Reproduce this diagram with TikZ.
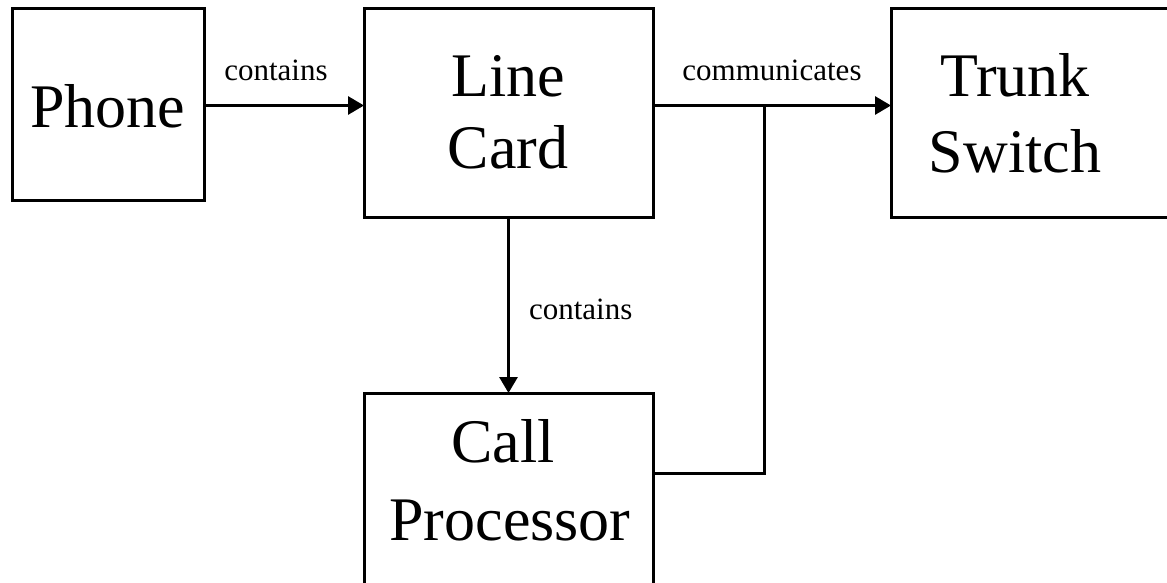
\documentclass[tikz,border=0pt]{standalone}
\usepackage{fontspec}
\setmainfont{Liberation Serif}
\usetikzlibrary{arrows.meta}
\begin{document}
\begin{tikzpicture}[x=1pt,y=-1pt,
  box/.style={draw, line width=3pt, inner sep=0pt, outer sep=0pt, anchor=north west},
  big/.style={font=\fontsize{62}{75}\selectfont, inner sep=0pt, anchor=base},
  lbl/.style={font=\fontsize{31}{36}\selectfont, inner sep=0pt},
  wire/.style={line width=3pt},
  arr/.style={wire, -{Triangle[length=16pt,width=18pt]}}]
\useasboundingbox (0,0) rectangle (1167,583);

% blocks
\node[box, minimum width=192pt, minimum height=191pt] (phone)    at (12,9)   {};
\node[box, minimum width=289pt, minimum height=208pt] (linecard) at (364,9)  {};
\node[box, minimum width=300pt, minimum height=208pt] (trunk)    at (891,9)  {};
\node[box, minimum width=289pt, minimum height=230pt] (callproc) at (364,393) {};

% block titles
\node[big] (phoneT)  at (108,128)  {Phone};
\node[big] (lineT)   at (508,97)   {Line};
\node[big] (cardT)   at (508,168)  {Card};
\node[big] (trunkT)  at (1015,97)  {Trunk};
\node[big] (switchT) at (1015,172) {Switch};
\node[big] (callT)   at (503,462)  {Call};
\node[big] (procT)   at (510,540)  {Processor};

% routing points
\coordinate (junc) at (764,105.5);
\coordinate (bend) at (764,473);

% connectors
\draw[arr] (phone.east |- junc) -- (linecard.west |- junc)
  node[lbl, pos=0.45, anchor=base, yshift=25pt] (lblA) {contains};
\draw[arr] (linecard.east |- junc) -- (trunk.west |- junc)
  node[lbl, pos=0.5, anchor=base, yshift=25pt] (lblB) {communicates};
\draw[arr] (linecard.south) -- (callproc.north)
  node[lbl, pos=0.583, anchor=base west, xshift=19pt] (lblC) {contains};
\draw[wire] (callproc.east |- bend) -- (bend) -- (junc);
\end{tikzpicture}
\end{document}
